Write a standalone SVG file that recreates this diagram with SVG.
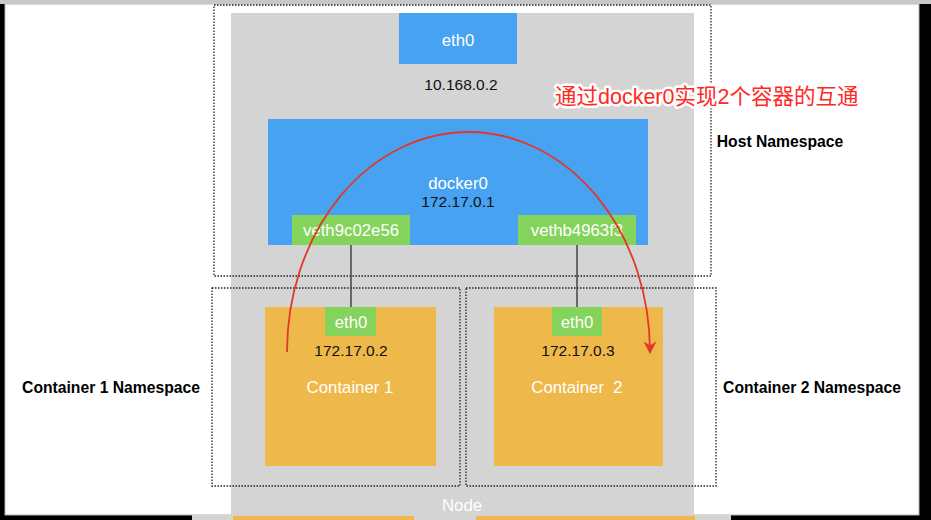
<svg xmlns="http://www.w3.org/2000/svg" width="931" height="520" viewBox="0 0 931 520">
<defs>
<style>
.t{font-family:"Liberation Sans",Arial,sans-serif;text-anchor:middle;dominant-baseline:central}
.w{fill:#ffffff;font-size:16.8px}
.k{fill:#111111;font-size:15.5px}
.b{fill:#000000;font-size:15.7px;font-weight:bold}
.ns{fill:none;stroke:#222;stroke-width:1.3;stroke-dasharray:1.5 1.5}
.blue{fill:#47a2f2}
.green{fill:#84d35a}
.orange{fill:#efb84a}
.gray{fill:#d4d4d4}
.link{stroke:#444;stroke-width:1.5;fill:none}
</style>
<marker id="ah" viewBox="0 0 12 12" refX="10" refY="6" markerWidth="13" markerHeight="13" markerUnits="userSpaceOnUse" orient="auto">
<path d="M0,0 L12,6 L0,12 L4,6 Z" fill="#e0382a"/>
</marker>
</defs>
<rect x="0" y="0" width="931" height="520" fill="#000"/>
<rect x="5" y="4" width="914" height="511" fill="#fff" stroke="#b5b5b5" stroke-width="1"/>
<rect x="0" y="0" width="931" height="4" fill="#c8c8c8"/>
<rect class="gray" x="192" y="515" width="539" height="5"/>
<rect class="orange" x="233" y="515" width="181" height="5"/>
<rect class="orange" x="476" y="515" width="219" height="5"/>

<g id="node">
<rect class="gray" x="231" y="13" width="463" height="503"/>
<text class="t w" x="462" y="505">Node</text>
</g>
<g id="host-namespace">
<rect class="ns" x="214" y="5" width="497" height="271"/>
<text class="t b" x="780" y="141">Host Namespace</text>
</g>
<g id="host-eth0">
<rect class="blue" x="399" y="13" width="118" height="51"/>
<text class="t w" x="458" y="40">eth0</text>
<text class="t k" x="461" y="84">10.168.0.2</text>
</g>
<g id="docker0">
<rect class="blue" x="268" y="119" width="380" height="126"/>
<text class="t w" x="458" y="183">docker0</text>
<text class="t k" x="458" y="201">172.17.0.1</text>
</g>
<g id="veth1">
<rect class="green" x="292" y="215" width="118" height="30"/>
<text class="t w" x="351" y="230">veth9c02e56</text>
</g>
<g id="veth2">
<rect class="green" x="518" y="215" width="118" height="30"/>
<text class="t w" x="577" y="230">vethb4963f3</text>
</g>
<g id="c1-namespace">
<rect class="ns" x="212" y="288" width="248" height="198"/>
<text class="t b" x="111" y="387">Container 1 Namespace</text>
</g>
<g id="c2-namespace">
<rect class="ns" x="466" y="288" width="250" height="198"/>
<text class="t b" x="812" y="387">Container 2 Namespace</text>
</g>
<g id="container1">
<rect class="orange" x="265" y="307" width="171" height="159"/>
<text class="t w" x="350" y="387">Container 1</text>
</g>
<g id="c1-eth0">
<rect class="green" x="325" y="307" width="51" height="29"/>
<text class="t w" x="351" y="322">eth0</text>
<text class="t k" x="351" y="350">172.17.0.2</text>
</g>
<g id="container2">
<rect class="orange" x="494" y="307" width="169" height="159"/>
<text class="t w" x="577" y="387" xml:space="preserve">Container  2</text>
</g>
<g id="c2-eth0">
<rect class="green" x="552" y="307" width="50" height="29"/>
<text class="t w" x="577" y="322">eth0</text>
<text class="t k" x="578" y="350">172.17.0.3</text>
</g>
<g id="connectors">
<line class="link" x1="351" y1="245" x2="351" y2="307"/>
<line class="link" x1="577" y1="245" x2="577" y2="307"/>
<path d="M287,352 A181.5,220 0 0 1 650,352" fill="none" stroke="#e0382a" stroke-width="1.8" marker-end="url(#ah)"/>
</g>
<g id="annotation">
<text x="555" y="97" font-family="'Liberation Sans','Noto Sans CJK SC',sans-serif" font-size="21.5" fill="#ff2a1f" stroke="#ffffff" stroke-width="5" stroke-linejoin="round" paint-order="stroke" dominant-baseline="central">通过docker0实现2个容器的互通</text>
</g>
</svg>
